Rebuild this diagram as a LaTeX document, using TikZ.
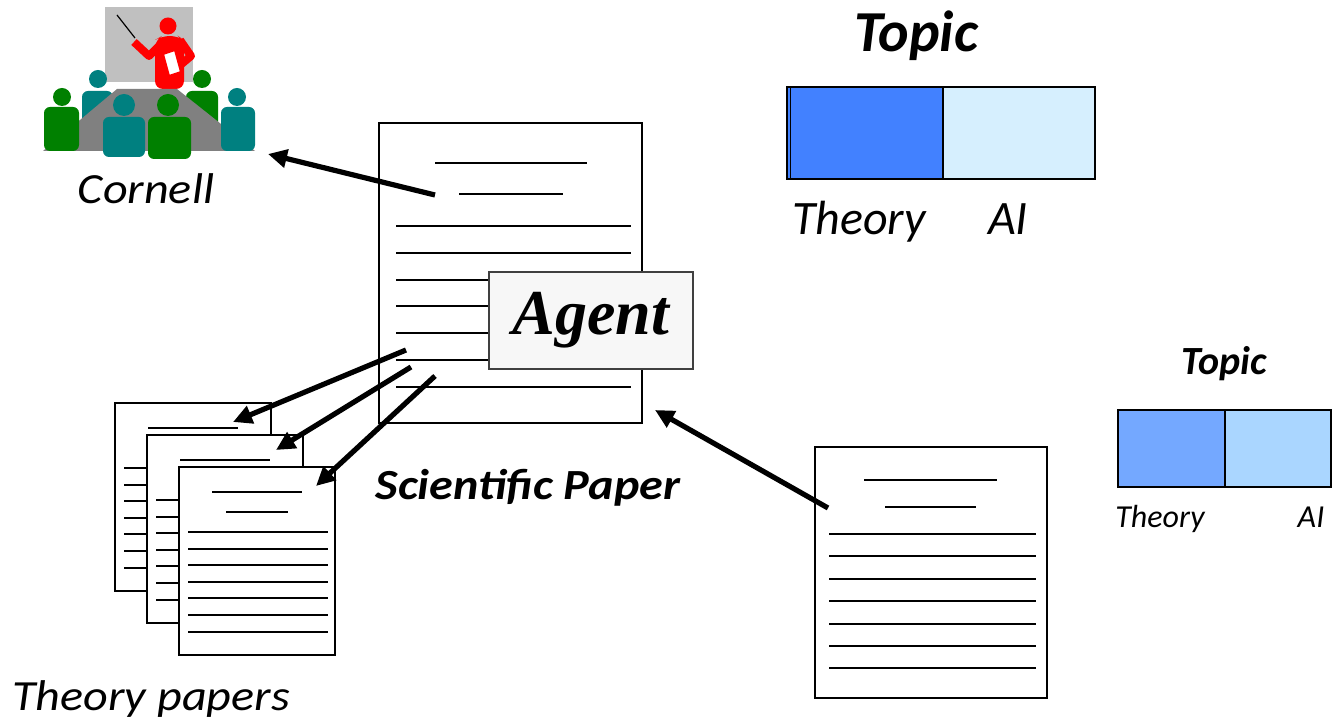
\documentclass[tikz,border=0pt]{standalone}
\usepackage{fontspec}
\setmainfont{Carlito}
\newfontfamily\agentfont{Liberation Serif}
\usetikzlibrary{arrows.meta, positioning}

\definecolor{boardgray}{HTML}{C0C0C0}
\definecolor{tablegray}{HTML}{808080}
\definecolor{seatgreen}{HTML}{008000}
\definecolor{seatteal}{HTML}{008080}
\definecolor{theorydark}{HTML}{4281FF}
\definecolor{aipale}{HTML}{D6EFFE}
\definecolor{theorymid}{HTML}{74A8FF}
\definecolor{ailight}{HTML}{AAD6FF}

\tikzset{
  sheet/.style={draw, fill=white, line width=1pt, inner sep=0pt},
  textline/.style={line width=1pt},
  flow/.style={line width=2.6pt, -{Triangle[length=9.5pt, width=9pt]}},
  itlabel/.style={anchor=base, inner sep=0pt, font=\itshape\fontsize{24}{24}\selectfont},
  widelabel/.style={anchor=base, inner sep=0pt, xscale=1.12, font=\itshape\fontsize{21.5}{21.5}\selectfont},
  bar/.style={draw, line width=1pt, inner sep=0pt},
  person/.style={rounded corners=3pt}
}

\begin{document}
\begin{tikzpicture}[x=0.5pt, y=-0.5pt]
  \useasboundingbox (0,0) rectangle (1339,726);

  % lecture room icon
  \fill[boardgray] (105,7) rectangle (193,82);
  \draw[line width=0.6pt] (117,15) -- (135,38);
  \fill[red] (168,26) circle (8.5);
  \fill[red, rounded corners=4pt] (155,89) -- (155,40) -- (162,36) -- (178,36) -- (184,40) -- (184,89) -- cycle;
  \draw[red, line width=4pt, line join=round] (134,42) -- (149,56) -- (163,42);
  \draw[red, line width=4pt, line join=round] (180,40) -- (191,56) -- (178,67);
  \filldraw[fill=white, draw=red, line width=1pt] (163,54) -- (175,50) -- (181,72) -- (169,76) -- cycle;
  % back row
  \fill[seatteal] (98,79) circle (9);
  \fill[seatteal, person] (82,91) rectangle (113,130);
  \fill[seatgreen] (202,79) circle (9);
  \fill[seatgreen, person] (186,91) rectangle (218,130);
  % table
  \fill[tablegray] (117,89) -- (177,89) -- (255,151) -- (43,151) -- cycle;
  % side seats
  \fill[seatgreen] (62,97) circle (9);
  \fill[seatgreen, person] (44,107) rectangle (79,151);
  \fill[seatteal] (237,97) circle (9);
  \fill[seatteal, person] (221,107) rectangle (255,151);
  % front seats
  \fill[seatteal] (124,105) circle (11);
  \fill[seatteal, person] (103,117) rectangle (145,157);
  \fill[seatgreen] (168,105) circle (11);
  \fill[seatgreen, person] (148,117) rectangle (191,159);
  \coordinate (room) at (268,154);
  \node[widelabel] (cornell) at (146,204) {Cornell};

  % scientific paper
  \node[sheet, minimum width=131.5pt, minimum height=150pt] (sci) at (510.5,273) {};
  \draw[textline] (435,163) -- (587,163);
  \draw[textline] (459,194) -- (563,194);
  \foreach \y in {226,253,280,306,333,360,387}
    \draw[textline] (396,\y) -- (631,\y);
  \node[draw=black!75, fill=black!3, line width=0.8pt, minimum width=102pt, minimum height=48.5pt,
        font=\agentfont\bfseries\itshape\fontsize{32}{32}\selectfont] (agent) at (591,320.5) {Agent};
  \node[widelabel, font=\bfseries\itshape\fontsize{21.5}{21.5}\selectfont] (scilabel) at (528,500) {Scientific Paper};
  \coordinate (toroom) at (435,195);
  \coordinate (out1) at (406,350);
  \coordinate (out2) at (411,367);
  \coordinate (out3) at (435,376);
  \coordinate (in) at (655,410);

  % theory papers
  \foreach \i in {1,2,3} {
    \begin{scope}[shift={({32*(\i-1)},{32*(\i-1)})}]
      \node[sheet, minimum width=78pt, minimum height=94pt] (thy\i) at (193,497) {};
      \draw[textline] (148,428) -- (238,428);
      \draw[textline] (162,448) -- (224,448);
      \foreach \k in {0,...,6}
        \draw[textline] (124,{468+16.6*\k}) -- (264,{468+16.6*\k});
    \end{scope}
  }
  \coordinate (tip1) at (233,422);
  \coordinate (tip2) at (276,450);
  \coordinate (tip3) at (316,486);
  \node[widelabel] (thylabel) at (151,711) {Theory papers};

  % incoming paper
  \node[sheet, minimum width=116pt, minimum height=125.5pt] (new) at (931,572.5) {};
  \draw[textline] (864,480) -- (997,480);
  \draw[textline] (885,507) -- (976,507);
  \foreach \k in {0,...,6}
    \draw[textline] (829,{534+22.4*\k}) -- (1036,{534+22.4*\k});
  \coordinate (newtop) at (828,508);

  % topic distributions
  \node[anchor=base, inner sep=0pt, font=\bfseries\itshape\fontsize{29}{29}\selectfont] (topic) at (916,52) {Topic};
  \node[bar, fill=theorydark, minimum width=78pt, minimum height=46pt] (theory) at (865,133) {};
  \node[bar, fill=aipale, minimum width=76pt, minimum height=46pt] (ai) at (1019,133) {};
  \draw[line width=0.6pt] (790.5,87) -- (790.5,179);
  \node[itlabel] (theorylab) at (859,235) {Theory};
  \node[itlabel] (ailab) at (1008,235) {AI};

  \node[anchor=base, inner sep=0pt, font=\bfseries\itshape\fontsize{20}{20}\selectfont] (topicsm) at (1224,375) {Topic};
  \node[bar, fill=theorymid, minimum width=53.5pt, minimum height=38.5pt] (theorysm) at (1171.5,448.5) {};
  \node[bar, fill=ailight, minimum width=53pt, minimum height=38.5pt] (aism) at (1278,448.5) {};
  \node[anchor=base, inner sep=0pt, font=\itshape\fontsize{16}{16}\selectfont] (theorysmlab) at (1160,528) {Theory};
  \node[anchor=base, inner sep=0pt, font=\itshape\fontsize{16}{16}\selectfont] (aismlab) at (1311,528) {AI};

  % arrows
  \draw[flow] (toroom) -- (room);
  \draw[flow] (out1) -- (tip1);
  \draw[flow] (out2) -- (tip2);
  \draw[flow] (out3) -- (tip3);
  \draw[flow] (newtop) -- (in);
\end{tikzpicture}
\end{document}
